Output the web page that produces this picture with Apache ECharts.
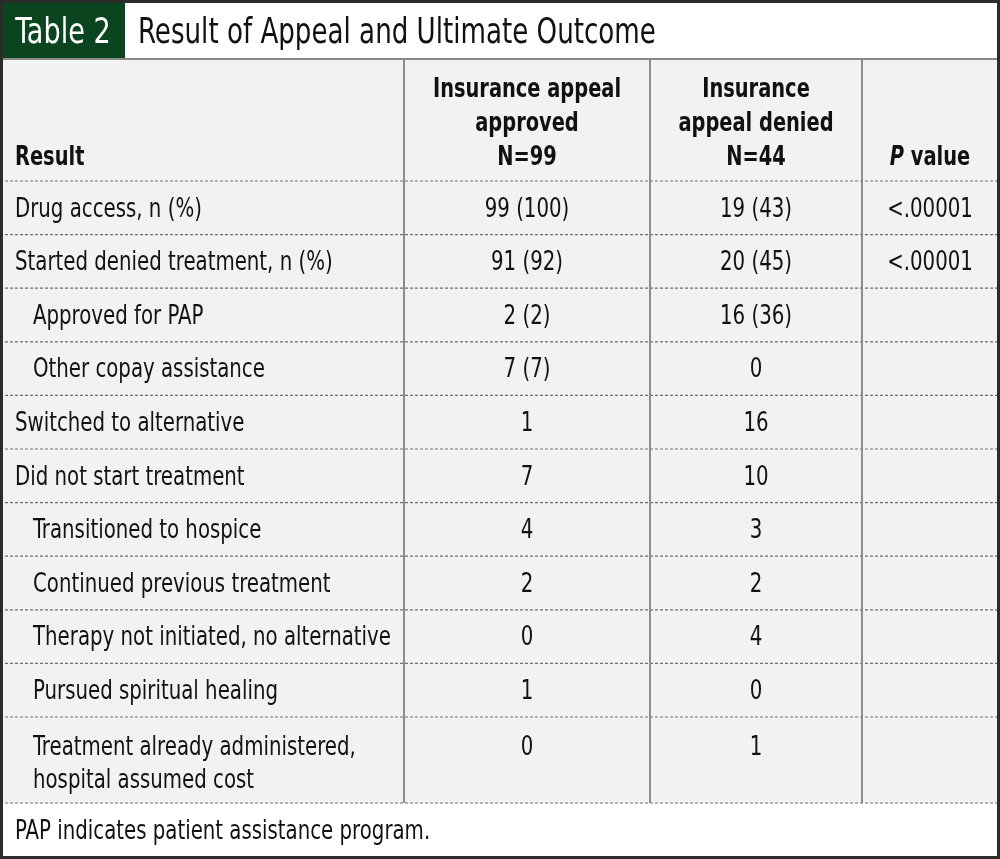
<!DOCTYPE html>
<html>
<head>
<meta charset="utf-8">
<script src="https://cdn.jsdelivr.net/npm/echarts@6/dist/echarts.min.js"></script>
<style>
html,body{margin:0;padding:0;background:#fff;}
#main{width:1000px;height:859px;}
</style>
</head>
<body>
<div id="main"></div>
<script>
// table content
var tableNo = 'Table 2';
var tableTitle = 'Result of Appeal and Ultimate Outcome';
var headers = [
  ['Result'],
  ['Insurance appeal', 'approved', 'N=99'],
  ['Insurance', 'appeal denied', 'N=44'],
  ['P value']
];
var rowLabels = [
  ['Drug access, n (%)'],
  ['Started denied treatment, n (%)'],
  ['Approved for PAP'],
  ['Other copay assistance'],
  ['Switched to alternative'],
  ['Did not start treatment'],
  ['Transitioned to hospice'],
  ['Continued previous treatment'],
  ['Therapy not initiated, no alternative'],
  ['Pursued spiritual healing'],
  ['Treatment already administered,', 'hospital assumed cost']
];
var indented = [0, 0, 1, 1, 0, 0, 1, 1, 1, 1, 1];
var approved = ['99 (100)', '91 (92)', '2 (2)', '7 (7)', '1', '7', '4', '2', '0', '1', '0'];
var denied = ['19 (43)', '20 (45)', '16 (36)', '0', '16', '10', '3', '2', '4', '0', '1'];
var pValues = ['<.00001', '<.00001', '', '', '', '', '', '', '', '', ''];
var footnote = 'PAP indicates patient assistance program.';

// condensed look: squeeze the installed condensed face a bit more
var FONT = '"DejaVu Sans Condensed","Liberation Sans Narrow","Roboto",sans-serif';
var SQ = 0.845;
var W = 1000, H = 859;
var titleH = 59;
var headTop = 59, headBottom = 181;
var rowH = 53.6;
var lastRowH = 86;
var colX = [0, 404, 650, 862, 998];
var colCenter = [15, 527, 756, 930];

var g = [];

function txt(x, y, style, sx) {
  style.textVerticalAlign = 'middle';
  g.push({type: 'text', x: x, y: y, scaleX: sx || SQ, style: style});
}

// backgrounds
g.push({type: 'rect', shape: {x: 0, y: 0, width: W, height: H}, style: {fill: '#ffffff'}});
var tableBottom = headBottom + rowH * (rowLabels.length - 1) + lastRowH;
g.push({type: 'rect', shape: {x: 0, y: headTop, width: W, height: tableBottom - headTop}, style: {fill: '#f2f2f2'}});
g.push({type: 'rect', shape: {x: 0, y: 0, width: 125, height: titleH}, style: {fill: '#0b4520'}});

// title
txt(63, 34, {text: tableNo, fill: '#ffffff', font: '35px ' + FONT, textAlign: 'center'}, 0.86);
txt(138, 34, {text: tableTitle, fill: '#111111', font: '35px ' + FONT, textAlign: 'left'}, 0.83);
g.push({type: 'line', shape: {x1: 0, y1: titleH, x2: W, y2: titleH}, style: {stroke: '#8a8a8a', lineWidth: 2}});

// header
var headLineY = [90, 124, 158];
headers.forEach(function (lines, c) {
  var off = 3 - lines.length;
  lines.forEach(function (t, i) {
    var st = {text: t, fill: '#111111', font: 'bold 26px ' + FONT,
      textAlign: c === 0 ? 'left' : 'center'};
    if (c === 3) {
      st = {text: '{i|P} {b|value}', rich: {
        i: {font: 'italic bold 26px ' + FONT, fill: '#111111'},
        b: {font: 'bold 26px ' + FONT, fill: '#111111'}
      }, fill: '#111111', font: 'bold 26px ' + FONT, textAlign: 'center'};
    }
    txt(colCenter[c], headLineY[off + i], st, 0.83);
  });
});

// body rows
var rowTops = [];
for (var r = 0; r < rowLabels.length; r++) {
  rowTops.push(headBottom + rowH * r);
}
function bodyText(x, y, t, align) {
  txt(x, y, {text: t, fill: '#111111', font: '26px ' + FONT, textAlign: align});
}
rowLabels.forEach(function (lines, r) {
  var top = rowTops[r];
  var h = r === rowLabels.length - 1 ? lastRowH : rowH;
  var firstY = lines.length === 1 ? top + h / 2 + 2 : top + 31;
  var lx = indented[r] ? 33 : 15;
  lines.forEach(function (t, i) { bodyText(lx, firstY + i * 33, t, 'left'); });
  bodyText(colCenter[1], firstY, approved[r], 'center');
  bodyText(colCenter[2], firstY, denied[r], 'center');
  if (pValues[r]) bodyText(colCenter[3], firstY, pValues[r], 'center');
});

// dashed horizontal rules
var ruleYs = [headBottom];
rowTops.forEach(function (t, r) {
  ruleYs.push(r === rowLabels.length - 1 ? t + lastRowH : t + rowH);
});
ruleYs.forEach(function (y) {
  g.push({type: 'line', shape: {x1: 0, y1: y, x2: W, y2: y},
    style: {stroke: '#6e6e6e', lineWidth: 1.2, lineDash: [3, 2]}});
});

// vertical rules
[1, 2, 3].forEach(function (c) {
  g.push({type: 'line', shape: {x1: colX[c], y1: headTop, x2: colX[c], y2: tableBottom},
    style: {stroke: '#8c8c8c', lineWidth: 2}});
});

// footnote
bodyText(15, (tableBottom + H) / 2 + 1, footnote, 'left');

// outer frame
g.push({type: 'rect', shape: {x: 1.5, y: 1.5, width: W - 3, height: H - 3},
  style: {fill: 'none', stroke: '#2b2b2b', lineWidth: 3}});

var chart = echarts.init(document.getElementById('main'), null, {renderer: 'canvas'});
chart.setOption({
  animation: false,
  graphic: {elements: g}
});
</script>
</body>
</html>
